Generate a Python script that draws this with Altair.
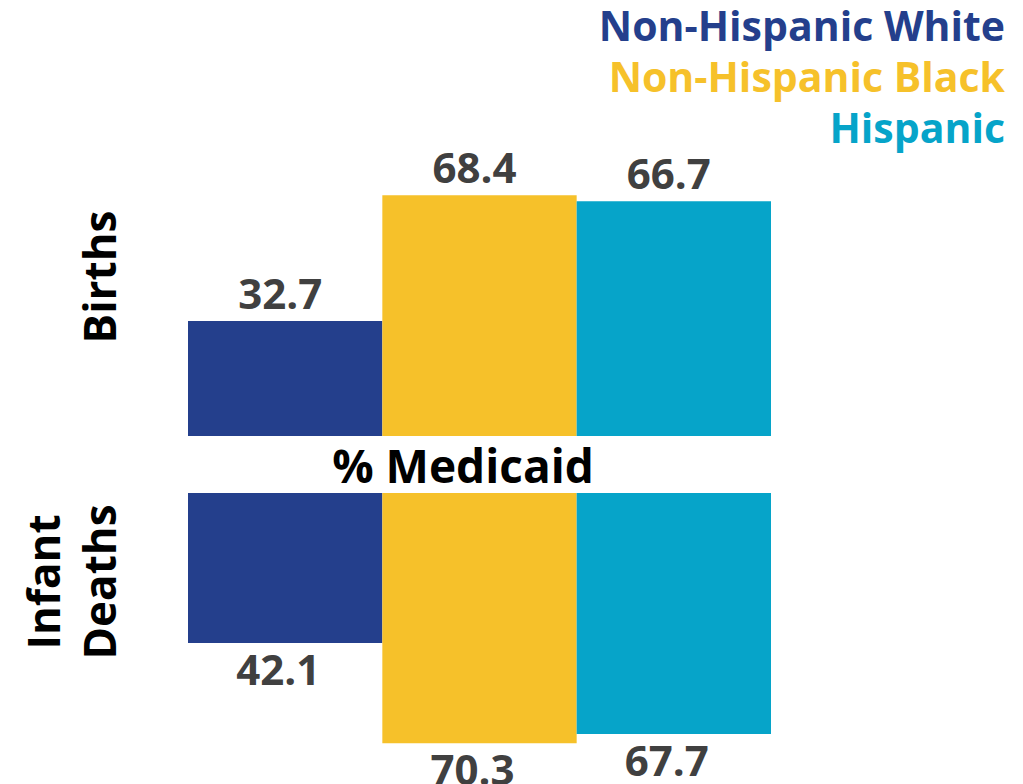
import altair as alt
import pandas as pd

# ---- data ----
groups = ["Non-Hispanic White", "Non-Hispanic Black", "Hispanic"]
births = [32.7, 68.4, 66.7]
deaths = [42.1, 70.3, 67.7]
colors = ["#243f8c", "#f6c12a", "#06a4c9"]
row_top = ["Births"]
row_bottom = ["Infant", "Deaths"]
center_label = "% Medicaid"

FONT = "Open Sans"
W = 583
HT = 264
HB = 267
DOMAIN = [0, 75]

df_b = pd.DataFrame({"group": groups, "value": births})
df_d = pd.DataFrame({"group": groups, "value": deaths})

xenc = alt.X("group:N", sort=groups,
             scale=alt.Scale(paddingInner=0, paddingOuter=0), axis=None)
cenc = alt.Color("group:N", scale=alt.Scale(domain=groups, range=colors), legend=None)

# ---- top panel (Births) ----
ty = alt.Y("value:Q", scale=alt.Scale(domain=DOMAIN), axis=None)
top_bars = alt.Chart(df_b).mark_bar(strokeWidth=0).encode(x=xenc, y=ty, color=cenc)
top_lbl = alt.Chart(df_b).mark_text(
    font=FONT, fontSize=42, fontWeight="bold", color="#404040",
    baseline="alphabetic", dy=-12, dx=-5
).encode(x=xenc, y=ty, text=alt.Text("value:Q", format=".1f"))

layers = [top_bars, top_lbl]
for i, (g, c) in enumerate(zip(groups, colors)):
    layers.append(
        alt.Chart(pd.DataFrame({"t": [g]})).mark_text(
            font=FONT, fontSize=41, fontWeight="bold", color=c,
            align="right", baseline="alphabetic"
        ).encode(x=alt.value(817), y=alt.value(-131 + 51 * i), text="t:N")
    )
layers.append(
    alt.Chart(pd.DataFrame({"t": row_top})).mark_text(
        font=FONT, fontSize=44, fontWeight="bold", color="black",
        align="center", baseline="alphabetic", angle=270
    ).encode(x=alt.value(-72), y=alt.value(105), text="t:N")
)
layers.append(
    alt.Chart(pd.DataFrame({"t": [center_label]})).mark_text(
        font=FONT, fontSize=46, fontWeight="bold", color="black",
        align="center", baseline="alphabetic"
    ).encode(x=alt.value(275), y=alt.value(311), text="t:N")
)
top = alt.layer(*layers).properties(width=W, height=HT)

# ---- bottom panel (Infant Deaths) ----
by = alt.Y("value:Q", scale=alt.Scale(domain=DOMAIN, reverse=True), axis=None)
bot_bars = alt.Chart(df_d).mark_bar(strokeWidth=0).encode(x=xenc, y=by, color=cenc)
bot_lbl = alt.Chart(df_d).mark_text(
    font=FONT, fontSize=42, fontWeight="bold", color="#404040",
    baseline="alphabetic", dy=42, dx=-7
).encode(x=xenc, y=by, text=alt.Text("value:Q", format=".1f"))
blayers = [bot_bars, bot_lbl]
for j, t in enumerate(row_bottom):
    blayers.append(
        alt.Chart(pd.DataFrame({"t": [t]})).mark_text(
            font=FONT, fontSize=44, fontWeight="bold", color="black",
            align="center", baseline="alphabetic", angle=270
        ).encode(x=alt.value(-128 + 56 * j), y=alt.value(89), text="t:N")
    )
bottom = alt.layer(*blayers).properties(width=W, height=HB)

chart = alt.vconcat(top, bottom, spacing=57, bounds="flush").properties(
    padding={"left": 17, "top": 0, "right": 5, "bottom": 5}
).configure_view(strokeWidth=0)

chart.save("out.html", embed_options={"renderer": "svg", "actions": False})
